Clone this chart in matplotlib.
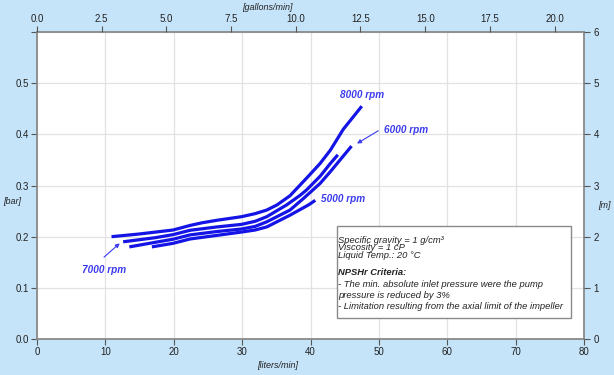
import matplotlib
matplotlib.use("Agg")
import matplotlib.pyplot as plt
import numpy as np

plt.rcParams['font.family'] = ['Liberation Sans', 'DejaVu Sans']

# ---- data ----
x_8000 = [10.9, 14.8, 19.9, 22.4, 24.1, 26.3, 29.9, 31.9, 33.6, 35.1, 37.0, 39.4, 41.4, 42.9, 44.8, 47.5]
y_8000 = [0.200, 0.205, 0.213, 0.222, 0.227, 0.232, 0.239, 0.245, 0.252, 0.262, 0.280, 0.314, 0.343, 0.369, 0.410, 0.455]

x_7000 = [12.6, 17.3, 19.9, 22.4, 26.3, 29.9, 31.9, 33.6, 36.5, 38.5, 39.4, 41.4, 42.9, 44.0]
y_7000 = [0.190, 0.198, 0.204, 0.2125, 0.219, 0.224, 0.230, 0.239, 0.262, 0.281, 0.291, 0.318, 0.343, 0.360]

x_6000 = [13.5, 17.3, 19.9, 22.4, 26.3, 29.9, 31.9, 33.6, 37.0, 39.0, 41.4, 42.9, 46.0]
y_6000 = [0.180, 0.189, 0.195, 0.2035, 0.210, 0.215, 0.220, 0.229, 0.252, 0.275, 0.304, 0.327, 0.377]

x_5000 = [16.8, 19.9, 22.4, 26.3, 29.9, 31.9, 33.6, 37.0, 39.7, 40.7]
y_5000 = [0.180, 0.187, 0.1955, 0.2025, 0.209, 0.213, 0.219, 0.242, 0.262, 0.271]

series = [(x_8000, y_8000), (x_7000, y_7000), (x_6000, y_6000), (x_5000, y_5000)]

x_ticks = [0, 10, 20, 30, 40, 50, 60, 70, 80]
y_ticks = [0.0, 0.1, 0.2, 0.3, 0.4, 0.5, 0.6]
y_ticklabels = ['0.0', '0.1', '0.2', '0.3', '0.4', '0.5', '']
gal_ticks = [0.0, 2.5, 5.0, 7.5, 10.0, 12.5, 15.0, 17.5, 20.0]
m_ticks = [0, 1, 2, 3, 4, 5, 6]
L_PER_GAL = 3.785

BG = '#C6E4F9'
BLUE = '#1414E6'
LBLUE = '#3A3AF0'
SPINE = '#8A8A8A'

fig = plt.figure(figsize=(6.14, 3.75), dpi=100, facecolor=BG)
ax = fig.add_axes([37/614, 1-339/375, (584-37)/614, (339-32)/375])
ax.set_facecolor('white')
ax.set_xlim(0, 80)
ax.set_ylim(0, 0.6)
ax.set_xticks(x_ticks)
ax.set_yticks(y_ticks)
ax.set_xticklabels([str(v) for v in x_ticks])
ax.set_yticklabels(y_ticklabels)
ax.grid(True, color='#E2E2E2', linewidth=0.9)
ax.set_axisbelow(True)
for s in ax.spines.values():
    s.set_color(SPINE)
    s.set_linewidth(1.3)
ax.tick_params(axis='both', which='both', direction='out', length=4, width=0.8,
               color='#555555', labelsize=7, labelcolor='#222222', pad=2)

for xs, ys in series:
    ax.plot(xs, ys, color=BLUE, linewidth=2.3, solid_capstyle='butt', zorder=3)

# top axis (gallons/min)
axt = ax.twiny()
axt.set_xlim(0, 80 / L_PER_GAL)
axt.set_xticks(gal_ticks)
axt.set_xticklabels([f"{v:.1f}" for v in gal_ticks])
axt.tick_params(axis='x', direction='out', length=4, width=0.8, color='#555555',
                labelsize=7, labelcolor='#222222', pad=2)
for s in axt.spines.values():
    s.set_visible(False)

# right axis (m)
axr = ax.twinx()
axr.set_ylim(0, 6)
axr.set_yticks(m_ticks)
axr.set_yticklabels([str(v) for v in m_ticks])
axr.tick_params(axis='y', direction='out', length=4, width=0.8, color='#555555',
                labelsize=7, labelcolor='#222222', pad=3)
for s in axr.spines.values():
    s.set_visible(False)

# axis labels
fig.text(12/614, 1-202/375, '[bar]', fontsize=6.5, style='italic', color='#222222', ha='center', va='center')
fig.text(604/614, 1-206/375, '[m]', fontsize=6.5, style='italic', color='#222222', ha='center', va='center')
fig.text(278/614, 1-366/375, '[liters/min]', fontsize=6.5, style='italic', color='#222222', ha='center', va='center')
fig.text(267/614, 1-8/375, '[gallons/min]', fontsize=6.5, style='italic', color='#222222', ha='center', va='center')

# rpm labels
lab_kw = dict(fontsize=7.2, fontweight='bold', style='italic', color=LBLUE, ha='center', va='center', zorder=5)
ax.text(47.6, 0.476, '8000 rpm', **lab_kw)
ax.text(54.0, 0.409, '6000 rpm', **lab_kw)
ax.text(44.8, 0.274, '5000 rpm', **lab_kw)
ax.text(9.8, 0.135, '7000 rpm', **lab_kw)
arr = dict(arrowstyle='-|>', color=LBLUE, lw=0.8, mutation_scale=6, shrinkA=0, shrinkB=0)
ax.annotate('', xy=(46.8, 0.382), xytext=(49.9, 0.407), arrowprops=arr)
ax.annotate('', xy=(12.1, 0.187), xytext=(9.8, 0.160), arrowprops=arr)

# info box
box = plt.Rectangle((43.9, 0.041), 78.1 - 43.9, 0.221 - 0.041, facecolor='white',
                    edgecolor='#8A8A8A', linewidth=1.0, zorder=4)
ax.add_patch(box)
tx = 44.05
def py2y(py):
    return (339 - py) / 511.7
tkw = dict(fontsize=6.75, style='italic', color='#222222', ha='left', va='center', zorder=6)
ax.text(tx, py2y(240), 'Specific gravity = 1 g/cm³', **tkw)
ax.text(tx, py2y(247.5), 'Viscosity = 1 cP', **tkw)
ax.text(tx, py2y(255.5), 'Liquid Temp.: 20 °C', **tkw)
ax.text(tx, py2y(272.5), 'NPSHr Criteria:', fontweight='bold', **tkw)
ax.text(tx, py2y(284), '- The min. absolute inlet pressure were the pump', **tkw)
ax.text(tx, py2y(295.5), 'pressure is reduced by 3%', **tkw)
ax.text(tx, py2y(306.5), '- Limitation resulting from the axial limit of the impeller', **tkw)

fig.savefig('out.png', dpi=100, facecolor=BG)
